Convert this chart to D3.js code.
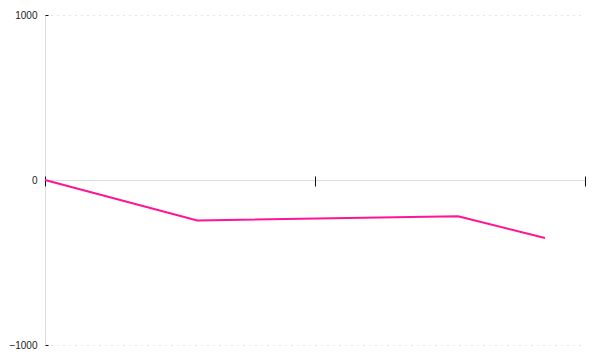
<!DOCTYPE html>
<html>
<head>
<meta charset="utf-8">
<script src="https://cdn.jsdelivr.net/npm/d3@7"></script>
<style>
  body { margin: 0; background: #fff; }
  svg { display: block; }
</style>
</head>
<body>
<div id="chart"></div>
<script>
const xValues = [0, 28.2, 76.5, 92.6]
const yValues = [0, -245, -220, -352]
const yTicks = [-1000, 0, 1000]
const xTicks = [0, 50, 100]

const width = 600, height = 360
const margin = { top: 15, right: 15, bottom: 15, left: 45 }

const svg = d3.select('#chart')
    .append('svg')
    .attr('width', width)
    .attr('height', height)

const x = d3.scaleLinear().domain([0, 100]).range([margin.left, width - margin.right])
const y = d3.scaleLinear().domain([-1000, 1000]).range([height - margin.bottom, margin.top])

// dashed grid lines at the extremes
svg.append('g')
    .selectAll('line')
    .data([-1000, 1000])
    .enter().append('line')
    .attr('x1', x(0) + 6)
    .attr('x2', x(100))
    .attr('y1', d => y(d) + 0.5)
    .attr('y2', d => y(d) + 0.5)
    .attr('stroke', '#e6e6e6')
    .attr('stroke-dasharray', '2,4')

// y axis
const yAxis = svg.append('g')
    .attr('transform', `translate(${x(0) + 0.5},0)`)
    .call(d3.axisLeft(y).tickValues(yTicks).tickSize(6).tickPadding(2).tickFormat(d3.format('d')))
yAxis.select('.domain').attr('stroke', '#ddd').attr('d', `M0,${y(1000)}V${y(-1000)}`)
yAxis.selectAll('.tick line').attr('stroke', '#111').attr('x2', 3)
yAxis.selectAll('.tick text')
    .attr('fill', '#222')
    .style('font-family', '"Liberation Sans", Arial, sans-serif')
    .style('font-size', '10px')

// x axis at zero
const xAxis = svg.append('g')
    .attr('transform', `translate(0,${y(0) + 0.5})`)
    .call(d3.axisBottom(x).tickValues(xTicks).tickSize(6).tickFormat(''))
xAxis.select('.domain').attr('stroke', '#ddd').attr('d', `M${x(0)},0H${x(100)}`)
xAxis.selectAll('.tick line').attr('stroke', '#111').attr('y1', -4)

// series
const line = d3.line()
    .x((d, i) => x(xValues[i]))
    .y(d => y(d))

svg.append('path')
    .datum(yValues)
    .attr('d', line)
    .attr('fill', 'none')
    .attr('stroke', '#ff1493')
    .attr('stroke-width', 2)
</script>
</body>
</html>
